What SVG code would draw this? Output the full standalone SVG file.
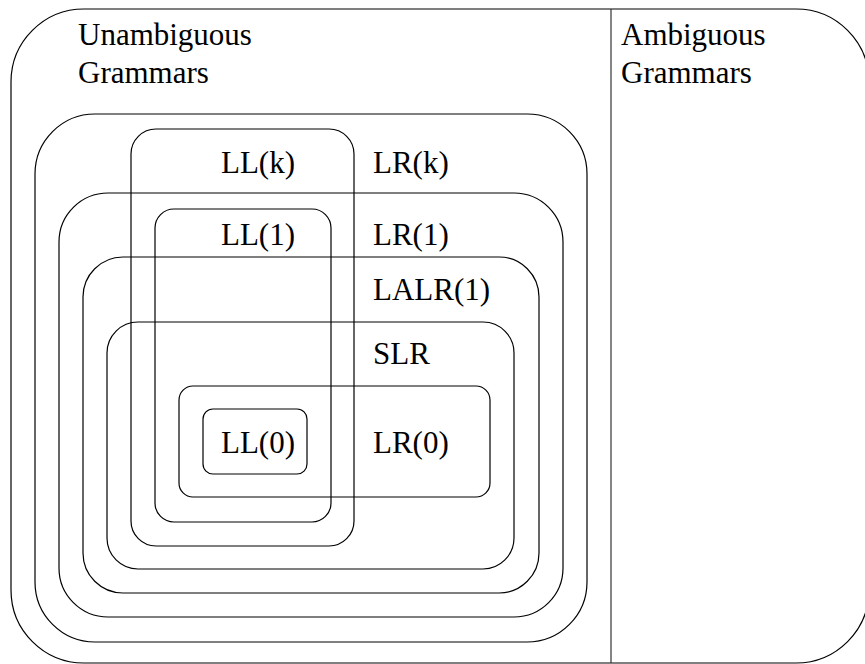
<svg xmlns="http://www.w3.org/2000/svg" width="865" height="664" viewBox="0 0 865 664">
  <style>
    .box { fill: none; stroke: #000; stroke-width: 1.2; }
    .div { fill: none; stroke: #333; stroke-width: 1.2; }
    .lbl { font-family: "Liberation Serif", "Times New Roman", serif; font-size: 31px; fill: #000; }
  </style>
  <rect width="865" height="664" fill="#fff"/>

  <!-- Outer frame: all grammars, split into unambiguous / ambiguous -->
  <g id="all-grammars">
    <rect class="box" x="11" y="9" width="858" height="654" rx="73" ry="73"/>
    <line class="div" x1="611" y1="9" x2="611" y2="663"/>
  </g>
  <g id="unambiguous">
    <text class="lbl" x="78" y="45">Unambiguous</text>
    <text class="lbl" x="78" y="83">Grammars</text>
  </g>
  <g id="ambiguous">
    <text class="lbl" x="621" y="45">Ambiguous</text>
    <text class="lbl" x="621" y="83">Grammars</text>
  </g>

  <!-- LR family: nested rounded regions -->
  <g id="lr-k">
    <rect class="box" x="35" y="114" width="552" height="528" rx="60" ry="60"/>
    <text class="lbl" x="373" y="173">LR(k)</text>
  </g>
  <g id="lr-1">
    <rect class="box" x="59" y="193" width="504" height="424" rx="49" ry="49"/>
    <text class="lbl" x="373" y="245">LR(1)</text>
  </g>
  <g id="lalr-1">
    <rect class="box" x="83" y="257" width="456" height="336" rx="40" ry="40"/>
    <text class="lbl" x="373" y="300">LALR(1)</text>
  </g>
  <g id="slr">
    <rect class="box" x="107" y="322" width="407" height="247" rx="31" ry="31"/>
    <text class="lbl" x="373" y="364">SLR</text>
  </g>
  <g id="lr-0">
    <rect class="box" x="179" y="386" width="311" height="111" rx="14" ry="14"/>
    <text class="lbl" x="373" y="453">LR(0)</text>
  </g>

  <!-- LL family: narrower regions crossing the LR family -->
  <g id="ll-k">
    <rect class="box" x="131" y="129" width="223" height="417" rx="25" ry="25"/>
    <text class="lbl" x="221" y="173">LL(k)</text>
  </g>
  <g id="ll-1">
    <rect class="box" x="155" y="209" width="176" height="313" rx="19" ry="19"/>
    <text class="lbl" x="221" y="245">LL(1)</text>
  </g>
  <g id="ll-0">
    <rect class="box" x="203" y="409" width="104" height="65" rx="10" ry="10"/>
    <text class="lbl" x="221" y="453">LL(0)</text>
  </g>
</svg>
